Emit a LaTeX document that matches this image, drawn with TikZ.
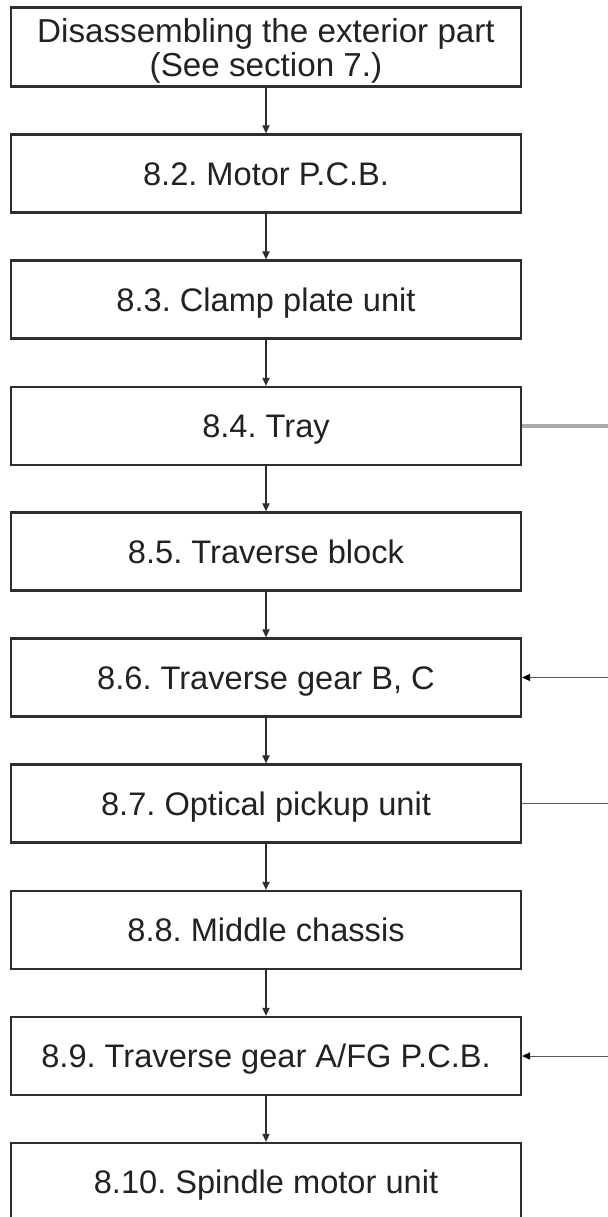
\documentclass[tikz,border=0pt]{standalone}
\usepackage{fontspec}
\setmainfont{Liberation Sans}
\usetikzlibrary{arrows.meta}
\definecolor{boxline}{HTML}{2E2E2E}
\definecolor{textgray}{HTML}{222222}
\definecolor{wireline}{HTML}{5A5A5A}
\definecolor{trayline}{HTML}{ABABAB}
\begin{document}
\frenchspacing
\begin{tikzpicture}[x=0.5pt,y=-0.5pt,
  stage/.style={draw=boxline, line width=1.15pt, minimum width=255pt,
    minimum height=39pt, inner sep=0pt, align=center, text=textgray,
    font=\fontsize{16.3}{17}\selectfont,
    text height=11.7pt, text depth=0pt},
  flow/.style={draw=boxline, line width=0.55pt,
    -{Triangle[length=4pt,width=3.6pt]}},
  sidein/.style={draw=wireline, line width=0.5pt,
    -{Triangle[length=4pt,width=3.6pt,color=black]}},
  sideout/.style={draw=wireline, line width=0.5pt}]
  \clip (0,0) rectangle (608,1217);
  \fill[white] (0,0) rectangle (608,1217);

  % process stages, top to bottom
  \node[stage, minimum height=39.5pt, text height=, text depth=,
        font=\fontsize{16.6}{17}\selectfont] (b1) at (266,47)
    {\rule{0pt}{16pt}Disassembling the exterior part\\(See section 7.)};
  \node[stage] (b2)  at (266,173.5) {8.2. Motor P.C.B.};
  \node[stage] (b3)  at (266,299.5) {8.3. Clamp plate unit};
  \node[stage] (b4)  at (266,426)   {8.4. Tray};
  \node[stage] (b5)  at (266,551.5) {8.5. Traverse block};
  \node[stage] (b6)  at (266,677.5) {8.6. Traverse gear B, C};
  \node[stage] (b7)  at (266,803.5) {8.7. Optical pickup unit};
  \node[stage] (b8)  at (266,930)   {8.8. Middle chassis};
  \node[stage] (b9)  at (266,1056)  {8.9. Traverse gear A/FG P.C.B.};
  \node[stage] (b10) at (266,1182)  {8.10. Spindle motor unit};

  % free ends of the branch lines at the right margin
  \coordinate (r4) at (608,426);
  \coordinate (r6) at (608,677.5);
  \coordinate (r7) at (608,803.5);
  \coordinate (r9) at (608,1056);

  % main sequence
  \foreach \a/\b in {b1/b2,b2/b3,b3/b4,b4/b5,b5/b6,b6/b7,b7/b8,b8/b9,b9/b10}
    \draw[flow] (\a) -- (\b);

  % branches
  \draw[draw=trayline, line width=1.7pt] (b4.east) -- (r4);
  \draw[sidein] (r6) -- (b6.east);
  \draw[sideout] (b7.east) -- (r7);
  \draw[sidein] (r9) -- (b9.east);
\end{tikzpicture}
\end{document}
